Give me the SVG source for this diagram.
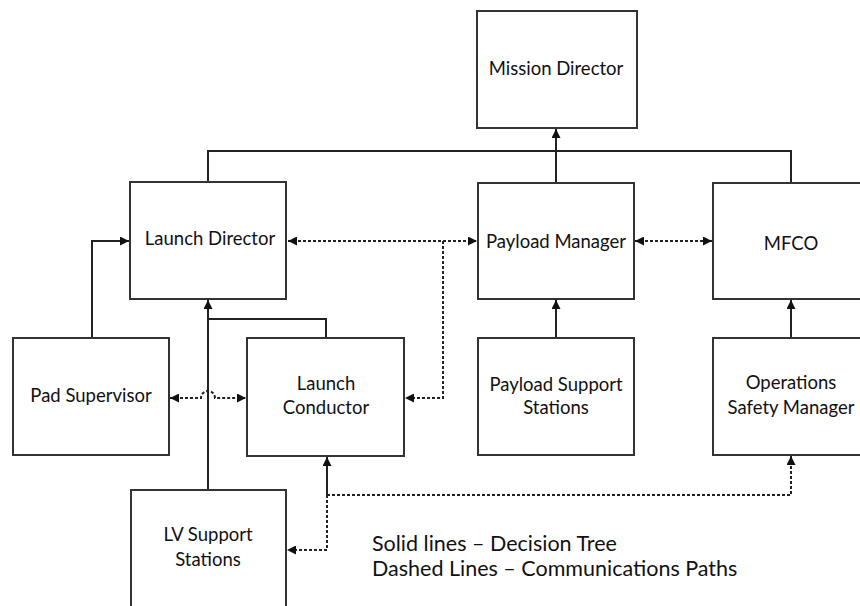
<svg xmlns="http://www.w3.org/2000/svg" width="860" height="606" viewBox="0 0 860 606">
<style>
.box{fill:#fff;stroke:#333;stroke-width:2}
.t{font-family:Lato,"Open Sans","Liberation Sans",sans-serif;font-size:18.5px;fill:#111;text-anchor:middle;dominant-baseline:central}
.lg{font-family:Lato,"Open Sans","Liberation Sans",sans-serif;font-size:21.5px;fill:#111;dominant-baseline:central}
.s{fill:none;stroke:#222;stroke-width:2}
.d{fill:none;stroke:#222;stroke-width:2;stroke-dasharray:3 2}
</style>
<defs>
<marker id="ah" viewBox="0 0 10 10" refX="10" refY="5" markerWidth="9" markerHeight="9" markerUnits="userSpaceOnUse" orient="auto-start-reverse">
<path d="M0,0 L10,5 L0,10 Z" fill="#111"/>
</marker>
</defs>
<rect width="860" height="606" fill="#fff"/>
<g id="connectors">
<polyline class="s" points="208,182 208,151 791,151 791,183"/>
<line class="s" x1="556" y1="183" x2="556" y2="129" marker-end="url(#ah)"/>
<polyline class="s" points="92,338 92,241 129,241" marker-end="url(#ah)"/>
<line class="s" x1="208" y1="490" x2="208" y2="300" marker-end="url(#ah)"/>
<polyline class="s" points="326,338 326,319 208,319"/>
<line class="s" x1="556" y1="338" x2="556" y2="300" marker-end="url(#ah)"/>
<line class="s" x1="791" y1="338" x2="791" y2="300" marker-end="url(#ah)"/>
<line class="s" x1="327" y1="495" x2="327" y2="457" marker-end="url(#ah)"/>
<line class="d" x1="288" y1="241" x2="477" y2="241" marker-start="url(#ah)" marker-end="url(#ah)"/>
<polyline class="d" points="443,241 443,398 405,398" marker-end="url(#ah)"/>
<line class="d" x1="635" y1="241" x2="712" y2="241" marker-start="url(#ah)" marker-end="url(#ah)"/>
<path class="d" d="M170,398 H201 A7,7 0 0 1 215,398 H246" marker-start="url(#ah)" marker-end="url(#ah)"/>
<polyline class="d" points="327,495 791,495 791,456" marker-end="url(#ah)"/>
<polyline class="d" points="327,495 327,550 287,550" marker-end="url(#ah)"/>
</g>
<g id="mission-director"><rect class="box" x="477" y="11" width="160" height="117"/><text class="t" x="556" y="68">Mission Director</text></g>
<g id="launch-director"><rect class="box" x="130" y="182" width="156" height="117"/><text class="t" x="210" y="238">Launch Director</text></g>
<g id="payload-manager"><rect class="box" x="478" y="183" width="156" height="116"/><text class="t" x="556" y="241">Payload Manager</text></g>
<g id="mfco"><rect class="box" x="713" y="183" width="156" height="116"/><text class="t" x="791" y="243">MFCO</text></g>
<g id="pad-supervisor"><rect class="box" x="13" y="338" width="156" height="117"/><text class="t" x="91" y="395">Pad Supervisor</text></g>
<g id="launch-conductor"><rect class="box" x="247" y="338" width="157" height="118"/><text class="t" x="326" y="383">Launch</text><text class="t" x="326" y="407">Conductor</text></g>
<g id="payload-support-stations"><rect class="box" x="478" y="338" width="156" height="117"/><text class="t" x="556" y="384">Payload Support</text><text class="t" x="556" y="407">Stations</text></g>
<g id="operations-safety-manager"><rect class="box" x="713" y="338" width="156" height="117"/><text class="t" x="791" y="382">Operations</text><text class="t" x="791" y="407">Safety Manager</text></g>
<g id="lv-support-stations"><rect class="box" x="131" y="490" width="155" height="130"/><text class="t" x="208" y="534">LV Support</text><text class="t" x="208" y="559">Stations</text></g>
<g id="legend"><text class="lg" x="372" y="543">Solid lines – Decision Tree</text><text class="lg" x="372" y="568">Dashed Lines – Communications Paths</text></g>
</svg>
